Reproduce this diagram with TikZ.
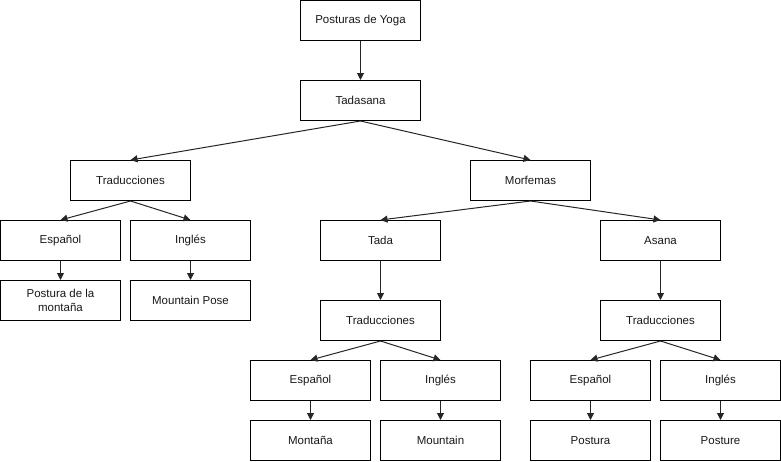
\documentclass[tikz,border=0pt]{standalone}
\usepackage{fontspec}
\setmainfont{Liberation Sans}
\usetikzlibrary{arrows.meta}
\begin{document}
\begin{tikzpicture}[x=1pt,y=-1pt,
  box/.style={draw=black,line width=1pt,fill=white,minimum width=120pt,minimum height=40pt,inner sep=2pt,align=center,font=\fontsize{11.5}{13.5}\selectfont,text=black!90},
  conn/.style={draw=black!85,line width=1pt,-{Triangle[length=7pt,width=7pt]}}]
\useasboundingbox (0,0) rectangle (781,461);
\node[box] (root) at (360.5,20.5) {Posturas de Yoga};
\node[box] (tad) at (360.5,100.5) {Tadasana};
\node[box] (tr1) at (130.5,180.5) {Traducciones};
\node[box] (mor) at (530.5,180.5) {Morfemas};
\node[box] (es1) at (60.5,240.5) {Español};
\node[box] (en1) at (190.5,240.5) {Inglés};
\node[box] (pm) at (60.5,300.5) {Postura de la\\montaña};
\node[box] (mp) at (190.5,300.5) {Mountain Pose};
\node[box] (tada) at (380.5,240.5) {Tada};
\node[box] (asa) at (660.5,240.5) {Asana};
\node[box] (tr2) at (380.5,320.5) {Traducciones};
\node[box] (tr3) at (660.5,320.5) {Traducciones};
\node[box] (es2) at (310.5,380.5) {Español};
\node[box] (en2) at (440.5,380.5) {Inglés};
\node[box] (es3) at (590.5,380.5) {Español};
\node[box] (en3) at (720.5,380.5) {Inglés};
\node[box] (mon) at (310.5,440.5) {Montaña};
\node[box] (mou) at (440.5,440.5) {Mountain};
\node[box] (pos) at (590.5,440.5) {Postura};
\node[box] (pst) at (720.5,440.5) {Posture};
\draw[conn] (root.south) -- (tad.north);
\draw[conn] (tad.south) -- (tr1.north);
\draw[conn] (tad.south) -- (mor.north);
\draw[conn] (tr1.south) -- (es1.north);
\draw[conn] (tr1.south) -- (en1.north);
\draw[conn] (es1.south) -- (pm.north);
\draw[conn] (en1.south) -- (mp.north);
\draw[conn] (mor.south) -- (tada.north);
\draw[conn] (mor.south) -- (asa.north);
\draw[conn] (tada.south) -- (tr2.north);
\draw[conn] (asa.south) -- (tr3.north);
\draw[conn] (tr2.south) -- (es2.north);
\draw[conn] (tr2.south) -- (en2.north);
\draw[conn] (tr3.south) -- (es3.north);
\draw[conn] (tr3.south) -- (en3.north);
\draw[conn] (es2.south) -- (mon.north);
\draw[conn] (en2.south) -- (mou.north);
\draw[conn] (es3.south) -- (pos.north);
\draw[conn] (en3.south) -- (pst.north);
\end{tikzpicture}
\end{document}
